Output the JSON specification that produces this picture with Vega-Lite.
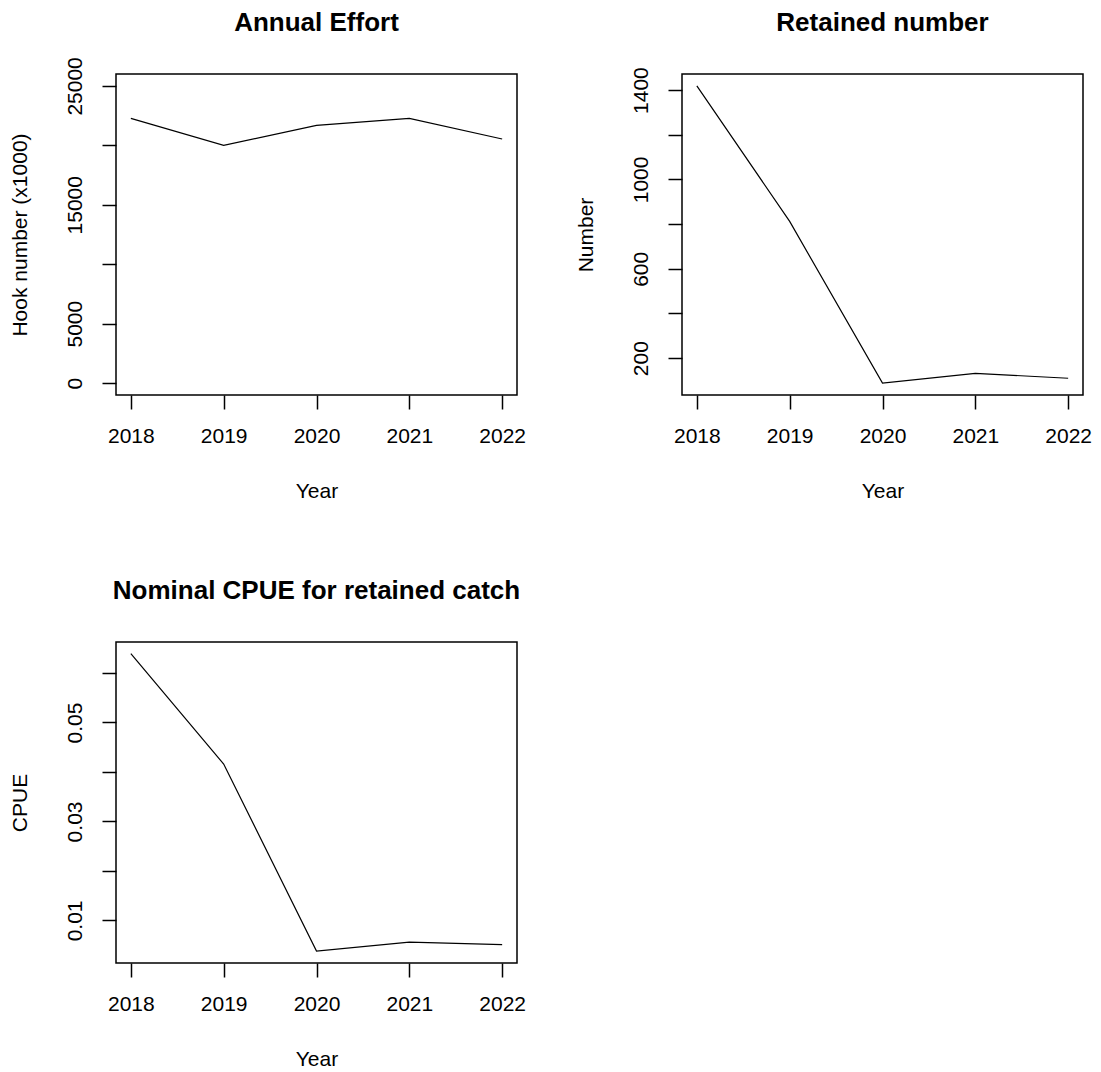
{
  "$schema": "https://vega.github.io/schema/vega-lite/v6.json",
  "padding": {"left": 8, "top": 8, "right": 0, "bottom": 0},
  "background": "white",
  "config": {
    "font": "Liberation Sans",
    "view": {"stroke": "black", "strokeWidth": 1.5},
    "axis": {
      "grid": false,
      "domain": false,
      "ticks": true,
      "tickColor": "black",
      "tickWidth": 1.5,
      "tickSize": 14,
      "labelFont": "Liberation Sans",
      "labelFontSize": 21,
      "labelColor": "black",
      "titleFont": "Liberation Sans",
      "titleFontSize": 21,
      "titleFontWeight": "normal",
      "titleColor": "black",
      "labelPadding": 14
    },
    "axisX": {"labelPadding": 16, "titlePadding": 34},
    "axisY": {"labelAngle": 270, "labelAlign": "center", "labelBaseline": "bottom", "labelPadding": 17, "titlePadding": 34},
    "title": {"font": "Liberation Sans", "fontSize": 26, "fontWeight": "bold", "color": "black", "anchor": "middle", "offset": 38}
  },
  "data": {
    "values": [
      {"Year": 2018, "effort": 22270, "retained": 1419, "cpue": 0.0639},
      {"Year": 2019, "effort": 19995, "retained": 812, "cpue": 0.0416},
      {"Year": 2020, "effort": 21680, "retained": 88, "cpue": 0.0038},
      {"Year": 2021, "effort": 22270, "retained": 132, "cpue": 0.0056},
      {"Year": 2022, "effort": 20530, "retained": 110, "cpue": 0.0051}
    ]
  },
  "columns": 2,
  "spacing": {"row": 75, "column": 47},
  "concat": [
    {
      "title": {"text": "Annual Effort", "offset": 21},
      "width": 401,
      "height": 321,
      "mark": {"type": "line", "color": "black", "strokeWidth": 1.2},
      "encoding": {
        "x": {"field": "Year", "type": "quantitative", "title": "Year",
              "scale": {"domain": [2017.84, 2022.16], "nice": false, "zero": false},
              "axis": {"values": [2018, 2019, 2020, 2021, 2022], "format": "d"}},
        "y": {"field": "effort", "type": "quantitative", "title": "Hook number (x1000)",
              "scale": {"domain": [-1000, 26000], "nice": false, "zero": false},
              "axis": {"values": [0, 5000, 10000, 15000, 20000, 25000], "format": "d",
                       "labelExpr": "datum.value == 10000 || datum.value == 20000 ? '' : datum.label"}}
      }
    },
    {
      "title": {"text": "Retained number", "offset": 31},
      "width": 401,
      "height": 321,
      "mark": {"type": "line", "color": "black", "strokeWidth": 1.2},
      "encoding": {
        "x": {"field": "Year", "type": "quantitative", "title": "Year",
              "scale": {"domain": [2017.84, 2022.16], "nice": false, "zero": false},
              "axis": {"values": [2018, 2019, 2020, 2021, 2022], "format": "d"}},
        "y": {"field": "retained", "type": "quantitative", "title": "Number",
              "scale": {"domain": [35, 1472], "nice": false, "zero": false},
              "axis": {"values": [200, 400, 600, 800, 1000, 1200, 1400], "format": "d",
                       "labelExpr": "datum.value == 400 || datum.value == 800 || datum.value == 1200 ? '' : datum.label"}}
      }
    },
    {
      "title": "Nominal CPUE for retained catch",
      "width": 401,
      "height": 321,
      "mark": {"type": "line", "color": "black", "strokeWidth": 1.2},
      "encoding": {
        "x": {"field": "Year", "type": "quantitative", "title": "Year",
              "scale": {"domain": [2017.84, 2022.16], "nice": false, "zero": false},
              "axis": {"values": [2018, 2019, 2020, 2021, 2022], "format": "d"}},
        "y": {"field": "cpue", "type": "quantitative", "title": "CPUE",
              "scale": {"domain": [0.00139, 0.06627], "nice": false, "zero": false},
              "axis": {"values": [0.01, 0.02, 0.03, 0.04, 0.05, 0.06], "format": ".2f",
                       "labelExpr": "datum.value > 0.015 && datum.value < 0.025 || datum.value > 0.035 && datum.value < 0.045 || datum.value > 0.055 ? '' : datum.label"}}
      }
    }
  ]
}
